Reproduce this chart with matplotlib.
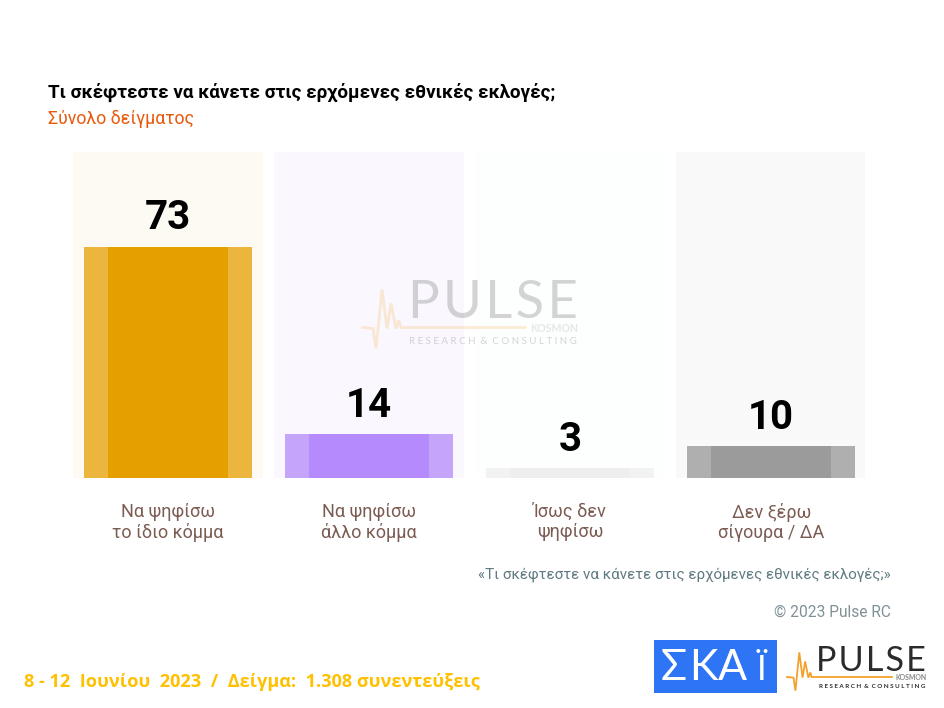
import matplotlib
matplotlib.use('Agg')
import matplotlib.pyplot as plt
from matplotlib.patches import Rectangle

W, H = 945, 708

categories = ['Να ψηφίσω\nτο ίδιο κόμμα', 'Να ψηφίσω\nάλλο κόμμα', 'Ίσως δεν\nψηφίσω', 'Δεν ξέρω\nσίγουρα / ΔΑ']
values = [73, 14, 3, 10]
panel_colors = ['#FDF9F3', '#FAF8FE', '#FDFEFE', '#F9F9F9']
outer_colors = ['#ECB63E', '#C4A5FB', '#F2F2F2', '#AFAFAF']
inner_colors = ['#E5A000', '#B48AFC', '#EEEEEE', '#9B9B9B']

title = 'Τι σκέφτεστε να κάνετε στις ερχόμενες εθνικές εκλογές;'
subtitle = 'Σύνολο δείγματος'
question = '«Τι σκέφτεστε να κάνετε στις ερχόμενες εθνικές εκλογές;»'
copyright_text = '© 2023 Pulse RC'
footer = '8 - 12  Ιουνίου  2023  /  Δείγμα:  1.308 συνεντεύξεις'

plt.rcParams['font.family'] = ['Roboto', 'DejaVu Sans']

fig = plt.figure(figsize=(W / 100, H / 100), dpi=100, facecolor='white')

# chart axes, placed in pixels
left, right, top, bottom = 73.3, 865.3, 152, 478
ax = fig.add_axes([left / W, 1 - bottom / H, (right - left) / W, (bottom - top) / H])
ax.set_xlim(-0.471, 3.468)
ax.set_ylim(0, 102.8)
ax.axis('off')

x = list(range(len(values)))
ax.bar(x, [102.8] * 4, width=0.942, color=panel_colors, zorder=1)
ax.bar(x, values, width=0.835, color=outer_colors, zorder=2)
ax.bar(x, values, width=0.597, color=inner_colors, zorder=3)
for i, v in zip(x, values):
    ax.annotate(str(v), (i, v), xytext=(0, 6.5), textcoords='offset points', ha='center', va='bottom',
                fontsize=29, fontweight='bold', color='black', zorder=5)
    ax.annotate(categories[i], (i, 0), xytext=(0, -18), textcoords='offset points', ha='center', va='top',
                fontsize=13, color='#7B5B52', linespacing=1.15, zorder=5)

# overlay in pixel coordinates for header, footer and logos
ov = fig.add_axes([0, 0, 1, 1], facecolor='none')
ov.set_xlim(0, W)
ov.set_ylim(H, 0)
ov.axis('off')
ov.set_zorder(10)

ov.text(48, 92, title, fontsize=13.6, fontweight='bold', color='black', va='center')
ov.text(48, 118.5, subtitle, fontsize=12.8, color='#E8590C', va='center')
ov.text(891, 575, question, fontsize=10.9, color='#5F7A80', ha='right', va='center')
ov.text(891, 612, copyright_text, fontsize=11.2, color='#7F9197', ha='right', va='center')
ov.text(24, 682, footer, fontsize=13.05, fontweight='bold', color='#FFC000', va='center', family=['Open Sans', 'DejaVu Sans'])


def pulse_logo(x0, y0, scale, alpha, small_weight):
    # x0, y0 = left end of the wave line; scale 1 = watermark size
    wave_x = [0, 10, 13, 19, 24, 28, 33, 36, 38, 162]
    wave_y = [0, 1, 21, -38, 1, -24, 1, -7, 0, 0]
    ov.plot([x0 + a * scale for a in wave_x], [y0 + b * scale for b in wave_y],
            color='#F5A02A', lw=2.0 * scale, alpha=alpha, solid_joinstyle='miter')
    ov.text(x0 + 215 * scale, y0 - 10 * scale, 'P\u200aU\u200aL\u200aS\u200aE', fontsize=38 * scale,
            color='#2B2B2B', alpha=alpha, family=['Lato', 'DejaVu Sans'], va='baseline', ha='right')
    ov.text(x0 + 215 * scale, y0 + 1 * scale, 'KOSMON', fontsize=7.6 * scale, fontweight='bold', color='#888888',
            alpha=alpha, ha='right', va='center', family=['Lato', 'DejaVu Sans'])
    ov.text(x0 + 214 * scale, y0 + 14 * scale, 'R E S E A R C H  &  C O N S U L T I N G', fontsize=7 * scale,
            fontweight=small_weight, color='#2B2B2B', alpha=alpha, ha='right', va='center',
            family=['Lato', 'DejaVu Sans'])


pulse_logo(363, 327.5, 1.0, 0.2, 'normal')
pulse_logo(787, 677, 0.648, 1.0, 'bold')

# ΣΚΑΪ logo
ov.add_patch(Rectangle((654, 640), 123, 53, facecolor='#2E75F5', edgecolor='none'))
for ch, cx, size in zip('ΣΚΑΪ', [674, 703, 732, 761], [31, 31, 31, 25]):
    ov.text(cx, 680, ch, fontsize=size, color='white', ha='center', va='baseline',
            family=['Lato', 'DejaVu Sans'])

fig.savefig('out.png', dpi=100)
